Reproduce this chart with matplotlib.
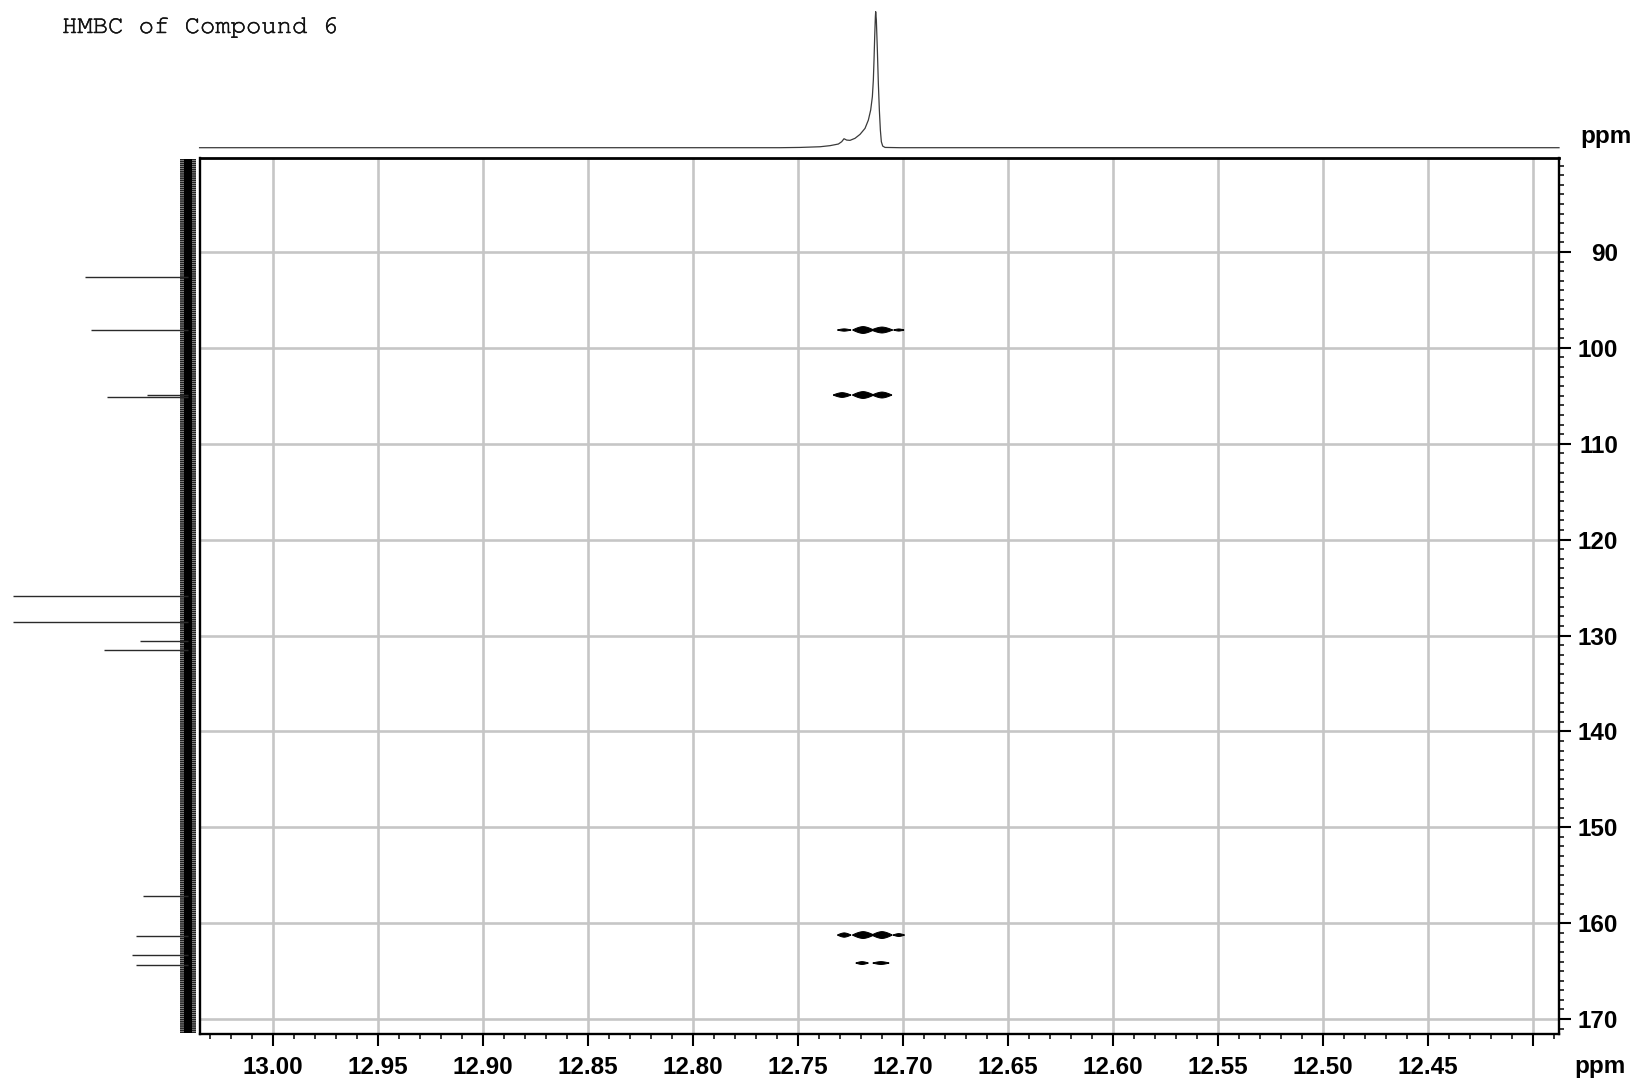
import numpy as np
import matplotlib
matplotlib.use("Agg")
import matplotlib.pyplot as plt
import matplotlib.patheffects as pe
from matplotlib.patches import Polygon
from matplotlib.ticker import FixedLocator, MultipleLocator

# ---------------- data ----------------
title = "HMBC of Compound 6"

# 1H projection (top trace): points (ppm, relative intensity)
h_ppm = [13.035, 12.7586, 12.7490, 12.73952, 12.73476, 12.73079, 12.72921, 12.72810,
         12.72683, 12.72524, 12.72286, 12.72048, 12.71810, 12.71651, 12.71540,
         12.71460, 12.71413, 12.71381, 12.71349, 12.71317, 12.71302, 12.71270,
         12.71222, 12.71175, 12.71127, 12.71079, 12.71032, 12.70968, 12.70857,
         12.70143, 12.3876]
h_int = [0.0, 0.0, 0.002, 0.007, 0.015, 0.027, 0.044, 0.066,
         0.056, 0.054, 0.069, 0.098, 0.142, 0.203, 0.277,
         0.375, 0.498, 0.645, 0.816, 0.963, 1.0, 0.939,
         0.718, 0.473, 0.277, 0.130, 0.044, 0.012, 0.002,
         0.0, 0.0]

# 13C projection (left trace): peak positions (ppm) and heights (arbitrary units)
c_ppm = [92.6, 98.1, 105.1, 104.9, 125.9, 128.6, 130.6, 131.5, 157.2, 161.3, 163.3, 164.4]
c_int = [103, 97, 81, 41, 175, 175, 48, 84, 45, 52, 56, 52]

# HMBC cross peaks: 1H shift, 13C shift, width (ppm 1H), height (ppm 13C)
cross_h = [12.728, 12.719, 12.710, 12.702,
           12.729, 12.719, 12.710,
           12.728, 12.719, 12.710, 12.702,
           12.7195, 12.7105]
cross_c = [98.14, 98.14, 98.14, 98.14,
           104.92, 104.92, 104.92,
           161.24, 161.24, 161.24, 161.24,
           164.16, 164.16]
cross_w = [0.0065, 0.0100, 0.0102, 0.0050,
           0.0085, 0.0102, 0.0094,
           0.0065, 0.0102, 0.0098, 0.0055,
           0.0060, 0.0078]
cross_ht = [0.24, 0.72, 0.62, 0.22,
            0.50, 0.72, 0.62,
            0.45, 0.72, 0.72, 0.30,
            0.30, 0.30]

x_ticks = [13.00, 12.95, 12.90, 12.85, 12.80, 12.75, 12.70, 12.65, 12.60, 12.55, 12.50, 12.45, 12.40]
x_labels = ["13.00", "12.95", "12.90", "12.85", "12.80", "12.75", "12.70", "12.65",
            "12.60", "12.55", "12.50", "12.45", ""]
y_ticks = [90, 100, 110, 120, 130, 140, 150, 160, 170]
y_labels = ["90", "100", "110", "120", "130", "140", "150", "160", "170"]

# ---------------- layout ----------------
W, H = 1636, 1084
DPI = 100
plt.rcParams["hatch.linewidth"] = 1.2
fig = plt.figure(figsize=(W / DPI, H / DPI), dpi=DPI)
fig.patch.set_facecolor("white")

XL = (13.0348, 12.3876)
YL = (171.56, 80.2)

def fx(px):
    return px / W

def fy(py):
    return 1 - py / H

sans = ["Liberation Sans", "DejaVu Sans"]

ax = fig.add_axes([fx(200), fy(1034), (1559 - 200) / W, (1034 - 158) / H])
ax.set_xlim(*XL)
ax.set_ylim(*YL)

for s in ax.spines.values():
    s.set_linewidth(1.7)
    s.set_color("black")
ax.spines["top"].set_linewidth(2.0)

ax.xaxis.set_major_locator(FixedLocator(x_ticks))
ax.set_xticklabels(x_labels)
ax.xaxis.set_minor_locator(MultipleLocator(0.01))
ax.yaxis.tick_right()
ax.yaxis.set_major_locator(FixedLocator(y_ticks))
ax.set_yticklabels(y_labels)
ax.yaxis.set_minor_locator(MultipleLocator(1))

ax.tick_params(axis="both", which="major", direction="out", length=8.6, width=1.5,
               color="black", labelsize=17.5)
ax.tick_params(axis="both", which="minor", direction="out", length=3.8, width=1.1, color="black")
ax.tick_params(axis="x", which="major", pad=7)
ax.tick_params(axis="y", which="major", pad=34)
ax.tick_params(axis="y", which="both", left=False, right=True)
ax.tick_params(axis="x", which="both", top=False, bottom=True)
for lab in ax.get_xticklabels():
    lab.set_fontweight("bold")
    lab.set_family(sans)
for lab in ax.get_yticklabels():
    lab.set_fontweight("bold")
    lab.set_family(sans)
    lab.set_horizontalalignment("right")

ax.set_axisbelow(True)
ax.grid(True, which="major", color="#c6c6c6", linewidth=1.9)

# cross peaks as lens shapes
u = np.linspace(-1, 1, 41)
for hx, cy, w, ht in zip(cross_h, cross_c, cross_w, cross_ht):
    top = ht / 2 * (1 - np.abs(u) ** 1.6)
    xs = np.concatenate([hx + u * w / 2, hx - u * w / 2])
    ys = np.concatenate([cy - top, cy + top[::-1]])
    ax.add_patch(Polygon(np.column_stack([xs, ys]), closed=True, facecolor="black",
                         edgecolor="black", linewidth=0.7, zorder=3))

# ppm unit labels
fig.text(fx(1600), fy(1066), "ppm", ha="center", va="center", fontsize=17.5,
         fontweight="bold", family=sans)
fig.text(fx(1606), fy(137), "ppm", ha="center", va="center", fontsize=17.5,
         fontweight="bold", family=sans)

# top 1H projection
axt = fig.add_axes([fx(200), fy(147.7), (1559 - 200) / W, (147.7 - 11.7) / H])
axt.set_xlim(*XL)
axt.set_ylim(0, 1)
axt.axis("off")
axt.plot(h_ppm, h_int, color="#3a3a3a", linewidth=0.9, clip_on=False)

# left 13C projection
axl = fig.add_axes([0, fy(1034), 199 / W, (1034 - 158) / H])
axl.set_xlim(188, -11)
axl.set_ylim(*YL)
axl.axis("off")
axl.fill_betweenx([YL[0] - 0.1, YL[1] + 0.1], -8, 8, facecolor="none", edgecolor="#222222",
                  hatch="--------", linewidth=0)
axl.fill_betweenx([YL[0] - 0.1, YL[1] + 0.1], -4, 4, color="black", linewidth=0)
axl.hlines(c_ppm, 0, c_int, colors="#2a2a2a", linewidth=1.0)

# title
fig.text(fx(62), fy(28), title, ha="left", va="center", fontsize=18.4,
         family=["Courier New", "Nimbus Mono PS", "FreeMono", "Liberation Mono", "DejaVu Sans Mono"],
         color="#111111",
         path_effects=[pe.withStroke(linewidth=0.35, foreground="#111111")])

fig.savefig("out.png", dpi=DPI, facecolor="white")
